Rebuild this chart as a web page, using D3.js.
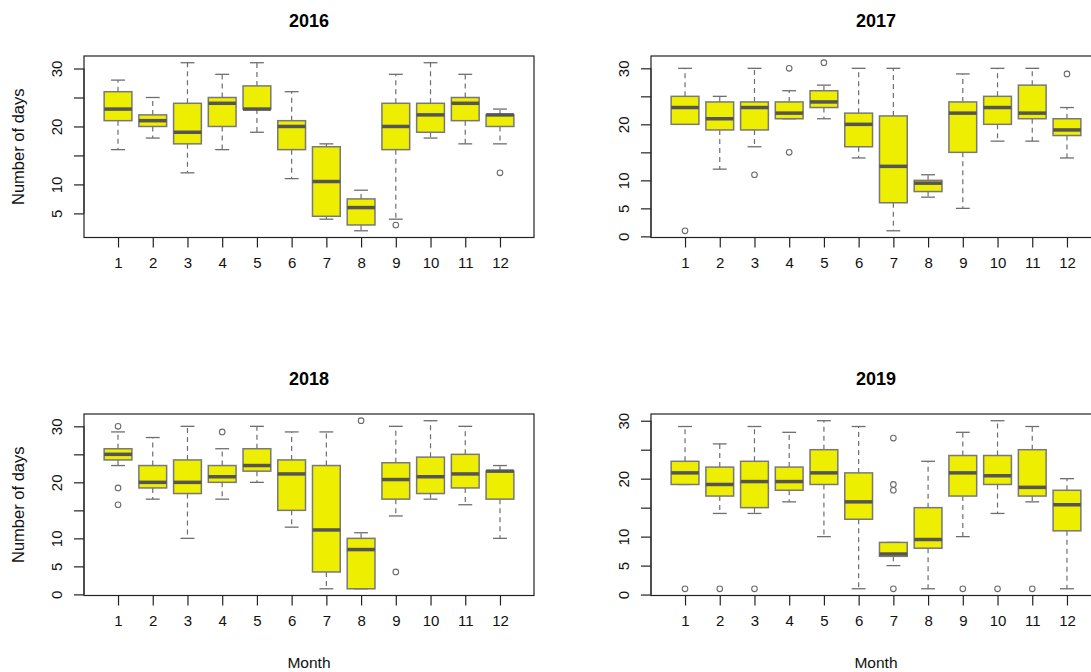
<!DOCTYPE html>
<html>
<head>
<meta charset="utf-8">
<script src="https://cdn.jsdelivr.net/npm/d3@7/dist/d3.min.js"></script>
<style>
  html, body { margin: 0; padding: 0; background: #fff; }
  svg { display: block; font-family: "Liberation Sans", Arial, sans-serif; }
</style>
</head>
<body>
<svg id="chart" width="1091" height="672"></svg>
<script>
// Monthly distributions of the number of days, one boxplot panel per year.
const months = [1, 2, 3, 4, 5, 6, 7, 8, 9, 10, 11, 12];
const years = ["2016", "2017", "2018", "2019"];

// Five-number summaries per month: [lower whisker, Q1, median, Q3, upper whisker]
const stats2016 = [
  [16, 21, 23, 26, 28], [18, 20, 21, 22, 25], [12, 17, 19, 24, 31], [16, 20, 24, 25, 29],
  [19, 23, 23, 27, 31], [11, 16, 20, 21, 26], [4, 4.5, 10.5, 16.5, 17], [2, 3, 6, 7.5, 9],
  [4, 16, 20, 24, 29], [18, 19, 22, 24, 31], [17, 21, 24, 25, 29], [17, 20, 22, 22, 23]
];
const stats2017 = [
  [20, 20, 23, 25, 30], [12, 19, 21, 24, 25], [16, 19, 23, 24, 30], [21, 21, 22, 24, 26],
  [21, 23, 24, 26, 27], [14, 16, 20, 22, 30], [1, 6, 12.5, 21.5, 30], [7, 8, 9.5, 10, 11],
  [5, 15, 22, 24, 29], [17, 20, 23, 25, 30], [17, 21, 22, 27, 30], [14, 18, 19, 21, 23]
];
const stats2018 = [
  [23, 24, 25, 26, 29], [17, 19, 20, 23, 28], [10, 18, 20, 24, 30], [17, 20, 21, 23, 26],
  [20, 22, 23, 26, 30], [12, 15, 21.5, 24, 29], [1, 4, 11.5, 23, 29], [1, 1, 8, 10, 11],
  [14, 17, 20.5, 23.5, 30], [17, 18, 21, 24.5, 31], [16, 19, 21.5, 25, 30], [10, 17, 22, 22, 23]
];
const stats2019 = [
  [19, 19, 21, 23, 29], [14, 17, 19, 22, 26], [14, 15, 19.5, 23, 29], [16, 18, 19.5, 22, 28],
  [10, 19, 21, 25, 30], [1, 13, 16, 21, 29], [5, 6.6, 7, 9, 9], [1, 8, 9.5, 15, 23],
  [10, 17, 21, 24, 28], [14, 19, 20.5, 24, 30], [16, 17, 18.5, 25, 29], [1, 11, 15.5, 18, 20]
];

// Points beyond the whiskers: [month, value]
const out2016 = [[9, 3], [12, 12]];
const out2017 = [[1, 1], [3, 11], [4, 30], [4, 15], [5, 31], [12, 29]];
const out2018 = [[1, 30], [1, 19], [1, 16], [4, 29], [8, 31], [9, 4]];
const out2019 = [[1, 1], [2, 1], [3, 1], [7, 27], [7, 19], [7, 18], [7, 1], [9, 1], [10, 1], [11, 1]];

// Y axis: ticks every 5 days; only some carry a label
const yTicks = [0, 5, 10, 15, 20, 25, 30];
const yLabelled = [0, 5, 10, 20, 30];

const yTitle = "Number of days";
const xTitle = "Month";

const panels = [
  { year: years[0], stats: stats2016, outliers: out2016, col: 0, row: 0 },
  { year: years[1], stats: stats2017, outliers: out2017, col: 1, row: 0 },
  { year: years[2], stats: stats2018, outliers: out2018, col: 0, row: 1 },
  { year: years[3], stats: stats2019, outliers: out2019, col: 1, row: 1 }
];

const svg = d3.select("#chart");

// Layout of the plotting frames
const frameLeft = [84, 651];
const frameTop = [56, 414];
const frameW = 450;
const frameH = 181.5;

const boxFill = "#eeee00";
const boxStroke = "#787878";
const medianStroke = "#555555";
const whiskerStroke = "#6e6e6e";

panels.forEach(p => {
  const x0 = frameLeft[p.col];
  const y0 = frameTop[p.row];
  const g = svg.append("g");

  // R-style ranges: 4% padding around the data
  const allVals = p.stats.flat().concat(p.outliers.map(d => d[1]));
  const lo = d3.min(allVals), hi = d3.max(allVals);
  const padY = (hi - lo) * 0.04;
  const y = d3.scaleLinear().domain([lo - padY, hi + padY]).range([y0 + frameH, y0]);
  const padX = (12.5 - 0.5) * 0.04;
  const x = d3.scaleLinear().domain([0.5 - padX, 12.5 + padX]).range([x0, x0 + frameW]);
  const unit = x(2) - x(1);
  const boxW = unit * 0.8;
  const capW = boxW * 0.5;

  // Title
  g.append("text")
    .attr("x", x0 + frameW / 2).attr("y", y0 - 29)
    .attr("text-anchor", "middle")
    .attr("font-size", 18).attr("font-weight", "bold")
    .attr("fill", "#000")
    .text(p.year);

  // Boxes
  const box = g.selectAll("g.box").data(p.stats).join("g").attr("class", "box");
  box.each(function (s, i) {
    const gx = d3.select(this);
    const cx = x(months[i]);
    // whiskers
    gx.append("line").attr("x1", cx).attr("x2", cx).attr("y1", y(s[3])).attr("y2", y(s[4]))
      .attr("stroke", whiskerStroke).attr("stroke-width", 1.2).attr("stroke-dasharray", "5,4");
    gx.append("line").attr("x1", cx).attr("x2", cx).attr("y1", y(s[1])).attr("y2", y(s[0]))
      .attr("stroke", whiskerStroke).attr("stroke-width", 1.2).attr("stroke-dasharray", "5,4");
    // staples
    [s[0], s[4]].forEach(v => {
      gx.append("line").attr("x1", cx - capW / 2).attr("x2", cx + capW / 2)
        .attr("y1", y(v)).attr("y2", y(v))
        .attr("stroke", whiskerStroke).attr("stroke-width", 1.3);
    });
    // box
    gx.append("rect")
      .attr("x", cx - boxW / 2).attr("width", boxW)
      .attr("y", y(s[3])).attr("height", Math.max(0.5, y(s[1]) - y(s[3])))
      .attr("fill", boxFill).attr("stroke", boxStroke).attr("stroke-width", 1.5);
    // median
    gx.append("line").attr("x1", cx - boxW / 2).attr("x2", cx + boxW / 2)
      .attr("y1", y(s[2])).attr("y2", y(s[2]))
      .attr("stroke", medianStroke).attr("stroke-width", 3.5);
  });

  // Outliers
  g.selectAll("circle.out").data(p.outliers).join("circle").attr("class", "out")
    .attr("cx", d => x(d[0])).attr("cy", d => y(d[1])).attr("r", 2.8)
    .attr("fill", "none").attr("stroke", "#6a6a6a").attr("stroke-width", 1.1);

  // Frame
  g.append("rect").attr("x", x0).attr("y", y0).attr("width", frameW).attr("height", frameH)
    .attr("fill", "none").attr("stroke", "#222").attr("stroke-width", 1.2);

  // X axis
  const xAxis = d3.axisBottom(x).tickValues(months).tickSize(10).tickPadding(10).tickFormat(d3.format("d"));
  const xg = g.append("g").attr("transform", `translate(0,${y0 + frameH})`).call(xAxis);
  xg.select(".domain").attr("d", `M${x(1)},0H${x(12)}`).attr("stroke", "#222");
  xg.selectAll(".tick line").attr("stroke", "#222").attr("stroke-width", 1.2);
  xg.selectAll(".tick text").attr("font-size", 15).attr("fill", "#111")
    .attr("font-family", "\"Liberation Sans\", Arial, sans-serif");

  // Y axis
  const ticks = yTicks.filter(t => t >= y.domain()[0] && t <= y.domain()[1]);
  const yAxis = d3.axisLeft(y).tickValues(ticks).tickSize(10)
    .tickFormat(d => yLabelled.includes(d) ? d : "");
  const yg = g.append("g").attr("transform", `translate(${x0},0)`).call(yAxis);
  yg.select(".domain").attr("d", `M0,${y(ticks[0])}V${y(ticks[ticks.length - 1])}`).attr("stroke", "#222");
  yg.selectAll(".tick line").attr("stroke", "#222").attr("stroke-width", 1.2);
  yg.selectAll(".tick text")
    .attr("x", null).attr("dy", null)
    .attr("text-anchor", "middle")
    .attr("dominant-baseline", "central")
    .attr("transform", "translate(-28,0) rotate(-90)")
    .attr("font-size", 15).attr("fill", "#111")
    .attr("font-family", "\"Liberation Sans\", Arial, sans-serif");

  // Axis titles
  if (p.col === 0) {
    g.append("text")
      .attr("transform", `translate(18,${y0 + frameH / 2}) rotate(-90)`)
      .attr("text-anchor", "middle").attr("dominant-baseline", "central")
      .attr("font-size", 16.5).attr("fill", "#111")
      .text(yTitle);
  }
  if (p.row === 1) {
    g.append("text")
      .attr("x", x0 + frameW / 2).attr("y", y0 + frameH + 72)
      .attr("text-anchor", "middle")
      .attr("font-size", 15.5).attr("fill", "#111")
      .text(xTitle);
  }
});
</script>
</body>
</html>
